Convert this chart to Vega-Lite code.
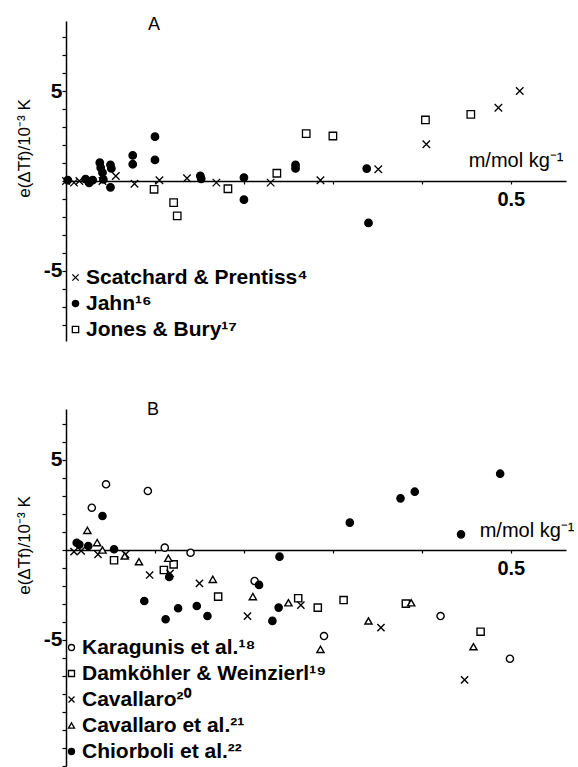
{
  "$schema": "https://vega.github.io/schema/vega-lite/v6.json",
  "autosize": {"type": "pad"},
  "padding": {"left": 15, "top": 16, "right": 0, "bottom": 0},
  "background": "white",
  "config": {
    "font": "Liberation Sans",
    "view": {"stroke": null},
    "axis": {"grid": false, "domainColor": "black", "tickColor": "black", "labelColor": "black", "titleColor": "black", "domainWidth": 1.5, "tickWidth": 1.2}
  },
  "bounds": "flush",
  "spacing": 68,
  "resolve": {
    "scale": {"shape": "independent", "fill": "independent", "x": "independent", "y": "independent"},
    "legend": {"shape": "independent", "fill": "independent"}
  },
  "vconcat": [
    {
      "width": 500,
      "height": 320,
      "title": {"text": "A", "anchor": "start", "frame": "group", "dx": 82, "dy": 15, "offset": -12, "fontSize": 18, "fontWeight": "normal", "baseline": "alphabetic"},
      "data": {"values": [
        {"m": 0.000, "e": 0.00, "s": "Scatchard & Prentiss⁴"},
        {"m": 0.009, "e": -0.09, "s": "Scatchard & Prentiss⁴"},
        {"m": 0.015, "e": 0.00, "s": "Scatchard & Prentiss⁴"},
        {"m": 0.041, "e": 0.00, "s": "Scatchard & Prentiss⁴"},
        {"m": 0.056, "e": 0.28, "s": "Scatchard & Prentiss⁴"},
        {"m": 0.077, "e": -0.15, "s": "Scatchard & Prentiss⁴"},
        {"m": 0.105, "e": 0.04, "s": "Scatchard & Prentiss⁴"},
        {"m": 0.136, "e": 0.15, "s": "Scatchard & Prentiss⁴"},
        {"m": 0.169, "e": -0.09, "s": "Scatchard & Prentiss⁴"},
        {"m": 0.230, "e": -0.09, "s": "Scatchard & Prentiss⁴"},
        {"m": 0.286, "e": 0.04, "s": "Scatchard & Prentiss⁴"},
        {"m": 0.351, "e": 0.65, "s": "Scatchard & Prentiss⁴"},
        {"m": 0.405, "e": 2.04, "s": "Scatchard & Prentiss⁴"},
        {"m": 0.486, "e": 4.07, "s": "Scatchard & Prentiss⁴"},
        {"m": 0.510, "e": 5.00, "s": "Scatchard & Prentiss⁴"},
        {"m": 0.002, "e": 0.05, "s": "Jahn¹⁶"},
        {"m": 0.022, "e": 0.10, "s": "Jahn¹⁶"},
        {"m": 0.026, "e": -0.10, "s": "Jahn¹⁶"},
        {"m": 0.030, "e": 0.05, "s": "Jahn¹⁶"},
        {"m": 0.038, "e": 1.02, "s": "Jahn¹⁶"},
        {"m": 0.039, "e": 0.74, "s": "Jahn¹⁶"},
        {"m": 0.041, "e": 0.46, "s": "Jahn¹⁶"},
        {"m": 0.042, "e": 0.09, "s": "Jahn¹⁶"},
        {"m": 0.050, "e": 0.90, "s": "Jahn¹⁶"},
        {"m": 0.051, "e": 0.70, "s": "Jahn¹⁶"},
        {"m": 0.050, "e": -0.35, "s": "Jahn¹⁶"},
        {"m": 0.075, "e": 1.42, "s": "Jahn¹⁶"},
        {"m": 0.075, "e": 0.93, "s": "Jahn¹⁶"},
        {"m": 0.100, "e": 2.46, "s": "Jahn¹⁶"},
        {"m": 0.100, "e": 1.17, "s": "Jahn¹⁶"},
        {"m": 0.151, "e": 0.28, "s": "Jahn¹⁶"},
        {"m": 0.152, "e": 0.12, "s": "Jahn¹⁶"},
        {"m": 0.200, "e": 0.19, "s": "Jahn¹⁶"},
        {"m": 0.200, "e": -1.04, "s": "Jahn¹⁶"},
        {"m": 0.258, "e": 0.89, "s": "Jahn¹⁶"},
        {"m": 0.258, "e": 0.70, "s": "Jahn¹⁶"},
        {"m": 0.338, "e": 0.69, "s": "Jahn¹⁶"},
        {"m": 0.340, "e": -2.33, "s": "Jahn¹⁶"},
        {"m": 0.099, "e": -0.46, "s": "Jones & Bury¹⁷"},
        {"m": 0.121, "e": -1.20, "s": "Jones & Bury¹⁷"},
        {"m": 0.125, "e": -1.94, "s": "Jones & Bury¹⁷"},
        {"m": 0.182, "e": -0.43, "s": "Jones & Bury¹⁷"},
        {"m": 0.237, "e": 0.43, "s": "Jones & Bury¹⁷"},
        {"m": 0.270, "e": 2.63, "s": "Jones & Bury¹⁷"},
        {"m": 0.300, "e": 2.50, "s": "Jones & Bury¹⁷"},
        {"m": 0.404, "e": 3.39, "s": "Jones & Bury¹⁷"},
        {"m": 0.455, "e": 3.70, "s": "Jones & Bury¹⁷"}
      ]},
      "mark": {"type": "point", "color": "black", "size": 56, "strokeWidth": 1.3, "opacity": 1},
      "encoding": {
        "x": {"field": "m", "type": "quantitative", "scale": {"domain": [0, 0.562], "nice": false, "zero": false},
          "axis": {"orient": "bottom", "offset": -160, "values": [0.1, 0.2, 0.3, 0.4, 0.5], "tickSize": 3, "labelExpr": "datum.value == 0.5 ? '0.5' : ''", "labelFontSize": 20, "labelFontWeight": "bold", "labelPadding": 5, "labelBaseline": "top",
            "title": "m/mol kg⁻¹", "titleFontSize": 20, "titleFontWeight": "normal", "titleAnchor": "end", "titleAlign": "right", "titleX": 497, "titleY": -15, "titleBaseline": "alphabetic"}},
        "y": {"field": "e", "type": "quantitative", "scale": {"domain": [-8.889, 8.889], "nice": false, "zero": false},
          "axis": {"values": [-8, -7, -6, -5, -4, -3, -2, -1, 0, 1, 2, 3, 4, 5, 6, 7, 8], "tickSize": 4, "labelExpr": "datum.value == 5 ? '5' : datum.value == -5 ? '-5' : ''", "labelFontSize": 21, "labelFontWeight": "bold", "labelPadding": 0,
            "title": "e(ΔTf)/10⁻³ K", "titleFontSize": 17, "titleFontWeight": "normal", "titleX": -42, "titleY": 127, "titleAlign": "center", "titleBaseline": "middle", "titleAngle": -90}},
        "shape": {"field": "s", "type": "nominal",
          "scale": {"domain": ["Scatchard & Prentiss⁴", "Jahn¹⁶", "Jones & Bury¹⁷"], "range": ["M-1,-1L1,1M-1,1L1,-1", "circle", "square"]},
          "legend": {"orient": "none", "legendX": -1, "legendY": 246, "title": null, "labelFontSize": 21, "labelFontWeight": "bold", "symbolSize": 40, "symbolStrokeWidth": 1.3, "rowPadding": 4, "labelOffset": 0, "padding": 0, "labelLimit": 400,
            "encode": {"symbols": {"stroke": {"value": "black"}, "strokeWidth": {"value": 1.3}}}}},
        "fill": {"field": "s", "type": "nominal",
          "scale": {"domain": ["Scatchard & Prentiss⁴", "Jahn¹⁶", "Jones & Bury¹⁷"], "range": ["white", "black", "white"]},
          "legend": {"orient": "none", "legendX": -1, "legendY": 246, "title": null, "labelFontSize": 21, "labelFontWeight": "bold", "symbolSize": 40, "symbolStrokeWidth": 1.3, "rowPadding": 4, "labelOffset": 0, "padding": 0, "labelLimit": 400,
            "encode": {"symbols": {"stroke": {"value": "black"}, "strokeWidth": {"value": 1.3}}}}}
      }
    },
    {
      "width": 500,
      "height": 357,
      "title": {"text": "B", "anchor": "start", "frame": "group", "dx": 81, "dy": 15, "offset": -9, "fontSize": 18, "fontWeight": "normal", "baseline": "alphabetic"},
      "data": {"values": [
        {"m": 0.029, "e": 2.35, "s": "Karagunis et al.¹⁸"},
        {"m": 0.045, "e": 3.65, "s": "Karagunis et al.¹⁸"},
        {"m": 0.092, "e": 3.28, "s": "Karagunis et al.¹⁸"},
        {"m": 0.111, "e": 0.13, "s": "Karagunis et al.¹⁸"},
        {"m": 0.140, "e": -0.15, "s": "Karagunis et al.¹⁸"},
        {"m": 0.212, "e": -1.72, "s": "Karagunis et al.¹⁸"},
        {"m": 0.290, "e": -4.78, "s": "Karagunis et al.¹⁸"},
        {"m": 0.421, "e": -3.67, "s": "Karagunis et al.¹⁸"},
        {"m": 0.499, "e": -6.04, "s": "Karagunis et al.¹⁸"},
        {"m": 0.054, "e": -0.57, "s": "Damköhler & Weinzierl¹⁹"},
        {"m": 0.110, "e": -1.11, "s": "Damköhler & Weinzierl¹⁹"},
        {"m": 0.121, "e": -0.80, "s": "Damköhler & Weinzierl¹⁹"},
        {"m": 0.171, "e": -2.59, "s": "Damköhler & Weinzierl¹⁹"},
        {"m": 0.261, "e": -2.68, "s": "Damköhler & Weinzierl¹⁹"},
        {"m": 0.283, "e": -3.20, "s": "Damköhler & Weinzierl¹⁹"},
        {"m": 0.312, "e": -2.78, "s": "Damköhler & Weinzierl¹⁹"},
        {"m": 0.382, "e": -2.98, "s": "Damköhler & Weinzierl¹⁹"},
        {"m": 0.466, "e": -4.54, "s": "Damköhler & Weinzierl¹⁹"},
        {"m": 0.009, "e": -0.09, "s": "Cavallaro²⁰"},
        {"m": 0.017, "e": -0.05, "s": "Cavallaro²⁰"},
        {"m": 0.036, "e": -0.24, "s": "Cavallaro²⁰"},
        {"m": 0.067, "e": -0.24, "s": "Cavallaro²⁰"},
        {"m": 0.094, "e": -1.39, "s": "Cavallaro²⁰"},
        {"m": 0.117, "e": -1.30, "s": "Cavallaro²⁰"},
        {"m": 0.150, "e": -1.85, "s": "Cavallaro²⁰"},
        {"m": 0.204, "e": -3.67, "s": "Cavallaro²⁰"},
        {"m": 0.264, "e": -3.06, "s": "Cavallaro²⁰"},
        {"m": 0.354, "e": -4.31, "s": "Cavallaro²⁰"},
        {"m": 0.448, "e": -7.22, "s": "Cavallaro²⁰"},
        {"m": 0.024, "e": 1.09, "s": "Cavallaro et al.²¹"},
        {"m": 0.035, "e": 0.41, "s": "Cavallaro et al.²¹"},
        {"m": 0.041, "e": 0.00, "s": "Cavallaro et al.²¹"},
        {"m": 0.066, "e": -0.33, "s": "Cavallaro et al.²¹"},
        {"m": 0.082, "e": -0.65, "s": "Cavallaro et al.²¹"},
        {"m": 0.115, "e": -0.46, "s": "Cavallaro et al.²¹"},
        {"m": 0.165, "e": -1.63, "s": "Cavallaro et al.²¹"},
        {"m": 0.210, "e": -2.59, "s": "Cavallaro et al.²¹"},
        {"m": 0.250, "e": -2.93, "s": "Cavallaro et al.²¹"},
        {"m": 0.286, "e": -5.52, "s": "Cavallaro et al.²¹"},
        {"m": 0.340, "e": -3.94, "s": "Cavallaro et al.²¹"},
        {"m": 0.388, "e": -2.93, "s": "Cavallaro et al.²¹"},
        {"m": 0.458, "e": -5.37, "s": "Cavallaro et al.²¹"},
        {"m": 0.012, "e": 0.40, "s": "Chiorboli et al.²²"},
        {"m": 0.015, "e": 0.30, "s": "Chiorboli et al.²²"},
        {"m": 0.025, "e": 0.22, "s": "Chiorboli et al.²²"},
        {"m": 0.041, "e": 1.89, "s": "Chiorboli et al.²²"},
        {"m": 0.054, "e": 0.04, "s": "Chiorboli et al.²²"},
        {"m": 0.088, "e": -2.83, "s": "Chiorboli et al.²²"},
        {"m": 0.112, "e": -3.85, "s": "Chiorboli et al.²²"},
        {"m": 0.116, "e": -1.50, "s": "Chiorboli et al.²²"},
        {"m": 0.126, "e": -3.24, "s": "Chiorboli et al.²²"},
        {"m": 0.147, "e": -3.11, "s": "Chiorboli et al.²²"},
        {"m": 0.159, "e": -3.67, "s": "Chiorboli et al.²²"},
        {"m": 0.217, "e": -1.94, "s": "Chiorboli et al.²²"},
        {"m": 0.232, "e": -3.94, "s": "Chiorboli et al.²²"},
        {"m": 0.239, "e": -3.20, "s": "Chiorboli et al.²²"},
        {"m": 0.240, "e": -0.37, "s": "Chiorboli et al.²²"},
        {"m": 0.319, "e": 1.52, "s": "Chiorboli et al.²²"},
        {"m": 0.376, "e": 2.87, "s": "Chiorboli et al.²²"},
        {"m": 0.392, "e": 3.24, "s": "Chiorboli et al.²²"},
        {"m": 0.444, "e": 0.87, "s": "Chiorboli et al.²²"},
        {"m": 0.488, "e": 4.24, "s": "Chiorboli et al.²²"}
      ]},
      "mark": {"type": "point", "color": "black", "size": 52, "strokeWidth": 1.4, "opacity": 1},
      "encoding": {
        "x": {"field": "m", "type": "quantitative", "scale": {"domain": [0, 0.562], "nice": false, "zero": false},
          "axis": {"orient": "bottom", "offset": -216, "values": [0.1, 0.2, 0.3, 0.4, 0.5], "tickSize": 3, "labelExpr": "datum.value == 0.5 ? '0.5' : ''", "labelFontSize": 20, "labelFontWeight": "bold", "labelPadding": 5, "labelBaseline": "top",
            "title": "m/mol kg⁻¹", "titleFontSize": 20, "titleFontWeight": "normal", "titleAnchor": "end", "titleAlign": "right", "titleX": 508, "titleY": -14, "titleBaseline": "alphabetic"}},
        "y": {"field": "e", "type": "quantitative", "scale": {"domain": [-12, 7.833], "nice": false, "zero": false},
          "axis": {"values": [-12, -11, -10, -9, -8, -7, -6, -5, -4, -3, -2, -1, 0, 1, 2, 3, 4, 5, 6, 7], "tickSize": 4, "labelExpr": "datum.value == 5 ? '5' : datum.value == -5 ? '-5' : ''", "labelFontSize": 21, "labelFontWeight": "bold", "labelPadding": 0,
            "title": "e(ΔTf)/10⁻³ K", "titleFontSize": 17, "titleFontWeight": "normal", "titleX": -42, "titleY": 136, "titleAlign": "center", "titleBaseline": "middle", "titleAngle": -90}},
        "shape": {"field": "s", "type": "nominal",
          "scale": {"domain": ["Karagunis et al.¹⁸", "Damköhler & Weinzierl¹⁹", "Cavallaro²⁰", "Cavallaro et al.²¹", "Chiorboli et al.²²"], "range": ["circle", "square", "M-1,-1L1,1M-1,1L1,-1", "triangle-up", "circle"]},
          "legend": {"orient": "none", "legendX": -5, "legendY": 228, "title": null, "labelFontSize": 21, "labelFontWeight": "bold", "symbolSize": 36, "symbolStrokeWidth": 1.3, "rowPadding": 4, "labelOffset": 0, "padding": 0, "labelLimit": 400,
            "encode": {"symbols": {"stroke": {"value": "black"}, "strokeWidth": {"value": 1.3}}}}},
        "fill": {"field": "s", "type": "nominal",
          "scale": {"domain": ["Karagunis et al.¹⁸", "Damköhler & Weinzierl¹⁹", "Cavallaro²⁰", "Cavallaro et al.²¹", "Chiorboli et al.²²"], "range": ["white", "white", "white", "white", "black"]},
          "legend": {"orient": "none", "legendX": -5, "legendY": 228, "title": null, "labelFontSize": 21, "labelFontWeight": "bold", "symbolSize": 36, "symbolStrokeWidth": 1.3, "rowPadding": 4, "labelOffset": 0, "padding": 0, "labelLimit": 400,
            "encode": {"symbols": {"stroke": {"value": "black"}, "strokeWidth": {"value": 1.3}}}}}
      }
    }
  ]
}
